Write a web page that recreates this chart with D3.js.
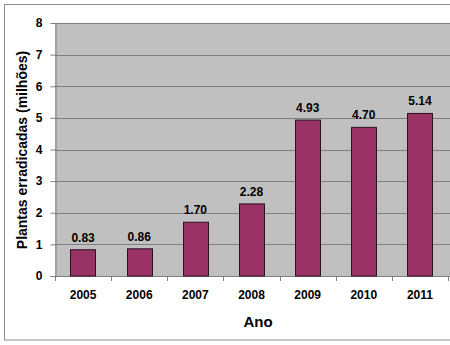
<!DOCTYPE html>
<html><head><meta charset="utf-8">
<script src="https://cdn.jsdelivr.net/npm/d3@7"></script>
<style>body{margin:0;background:#fff}svg{display:block}text{font-family:"Liberation Sans",Arial,sans-serif;font-weight:bold;fill:#000}</style>
</head><body>
<script>
const categories = ["2005","2006","2007","2008","2009","2010","2011"];
const values = [0.83,0.86,1.70,2.28,4.93,4.70,5.14];
const valueLabels = ["0.83","0.86","1.70","2.28","4.93","4.70","5.14"];
const yTicks = [0,1,2,3,4,5,6,7,8];

const W=450,H=345;
const svg=d3.select("body").append("svg").attr("width",W).attr("height",H);
svg.append("rect").attr("x",4.5).attr("y",4.5).attr("width",460).attr("height",335.5)
  .attr("fill","#fff").attr("stroke","#8c8c8c").attr("stroke-width",1);

const m={l:55,t:23,r:448,b:276};
const x=d3.scaleBand().domain(categories).range([m.l,m.r]).paddingInner(0.55).paddingOuter(0.275);
const y=d3.scaleLinear().domain([0,8]).range([m.b,m.t]);

svg.append("rect").attr("x",m.l).attr("y",m.t).attr("width",m.r-m.l+10).attr("height",m.b-m.t).attr("fill","#c0c0c0");

const g=svg.append("g");
g.selectAll("line.grid").data(yTicks.filter(d=>d>0)).join("line")
  .attr("x1",m.l).attr("x2",W).attr("y1",d=>Math.round(y(d))+0.5).attr("y2",d=>Math.round(y(d))+0.5)
  .attr("stroke","#7f7f7f").attr("stroke-width",1);

const yAxis=svg.append("g").attr("transform",`translate(${m.l+0.5},0)`)
  .call(d3.axisLeft(y).tickValues(yTicks).tickSize(5).tickPadding(8).tickFormat(d3.format("d")));
yAxis.select(".domain").attr("stroke","#7f7f7f");
yAxis.selectAll(".tick line").attr("stroke","#7f7f7f");
yAxis.selectAll("text").style("font-size","12px").style("font-family","'Liberation Sans',Arial,sans-serif").style("font-weight","bold");

const xAxis=svg.append("g").attr("transform",`translate(0,${m.b+0.5})`)
  .call(d3.axisBottom(x).tickSize(0).tickPadding(14));
xAxis.select(".domain").attr("stroke","#7f7f7f").attr("d",`M${m.l},0H${W}`);
xAxis.selectAll("text").style("font-size","12px").style("font-family","'Liberation Sans',Arial,sans-serif").style("font-weight","bold");
// tick marks between categories
const step=x.step();
const bounds=d3.range(categories.length+1).map(i=>m.l+i*(m.r-m.l)/categories.length);
svg.selectAll("line.xt").data(bounds).join("line")
  .attr("x1",d=>Math.round(d)+0.5).attr("x2",d=>Math.round(d)+0.5).attr("y1",m.b).attr("y2",m.b+5)
  .attr("stroke","#7f7f7f");

svg.selectAll("rect.bar").data(values).join("rect")
  .attr("x",(d,i)=>Math.round(x(categories[i]))+0.5).attr("width",Math.round(x.bandwidth()))
  .attr("y",d=>y(d)).attr("height",d=>m.b-y(d))
  .attr("fill","#993366").attr("stroke","#2a1020").attr("stroke-width",1);

svg.selectAll("text.val").data(values).join("text")
  .attr("x",(d,i)=>x(categories[i])+x.bandwidth()/2).attr("y",d=>y(d)-8)
  .attr("text-anchor","middle").style("font-size","12px").text((d,i)=>valueLabels[i]);

svg.append("text").attr("x",258).attr("y",327).attr("text-anchor","middle").style("font-size","15px").text("Ano");
svg.append("text").attr("transform",`translate(27,150) rotate(-90)`).attr("text-anchor","middle")
  .style("font-size","14px").text("Plantas erradicadas (milhões)");
</script>
</body></html>
